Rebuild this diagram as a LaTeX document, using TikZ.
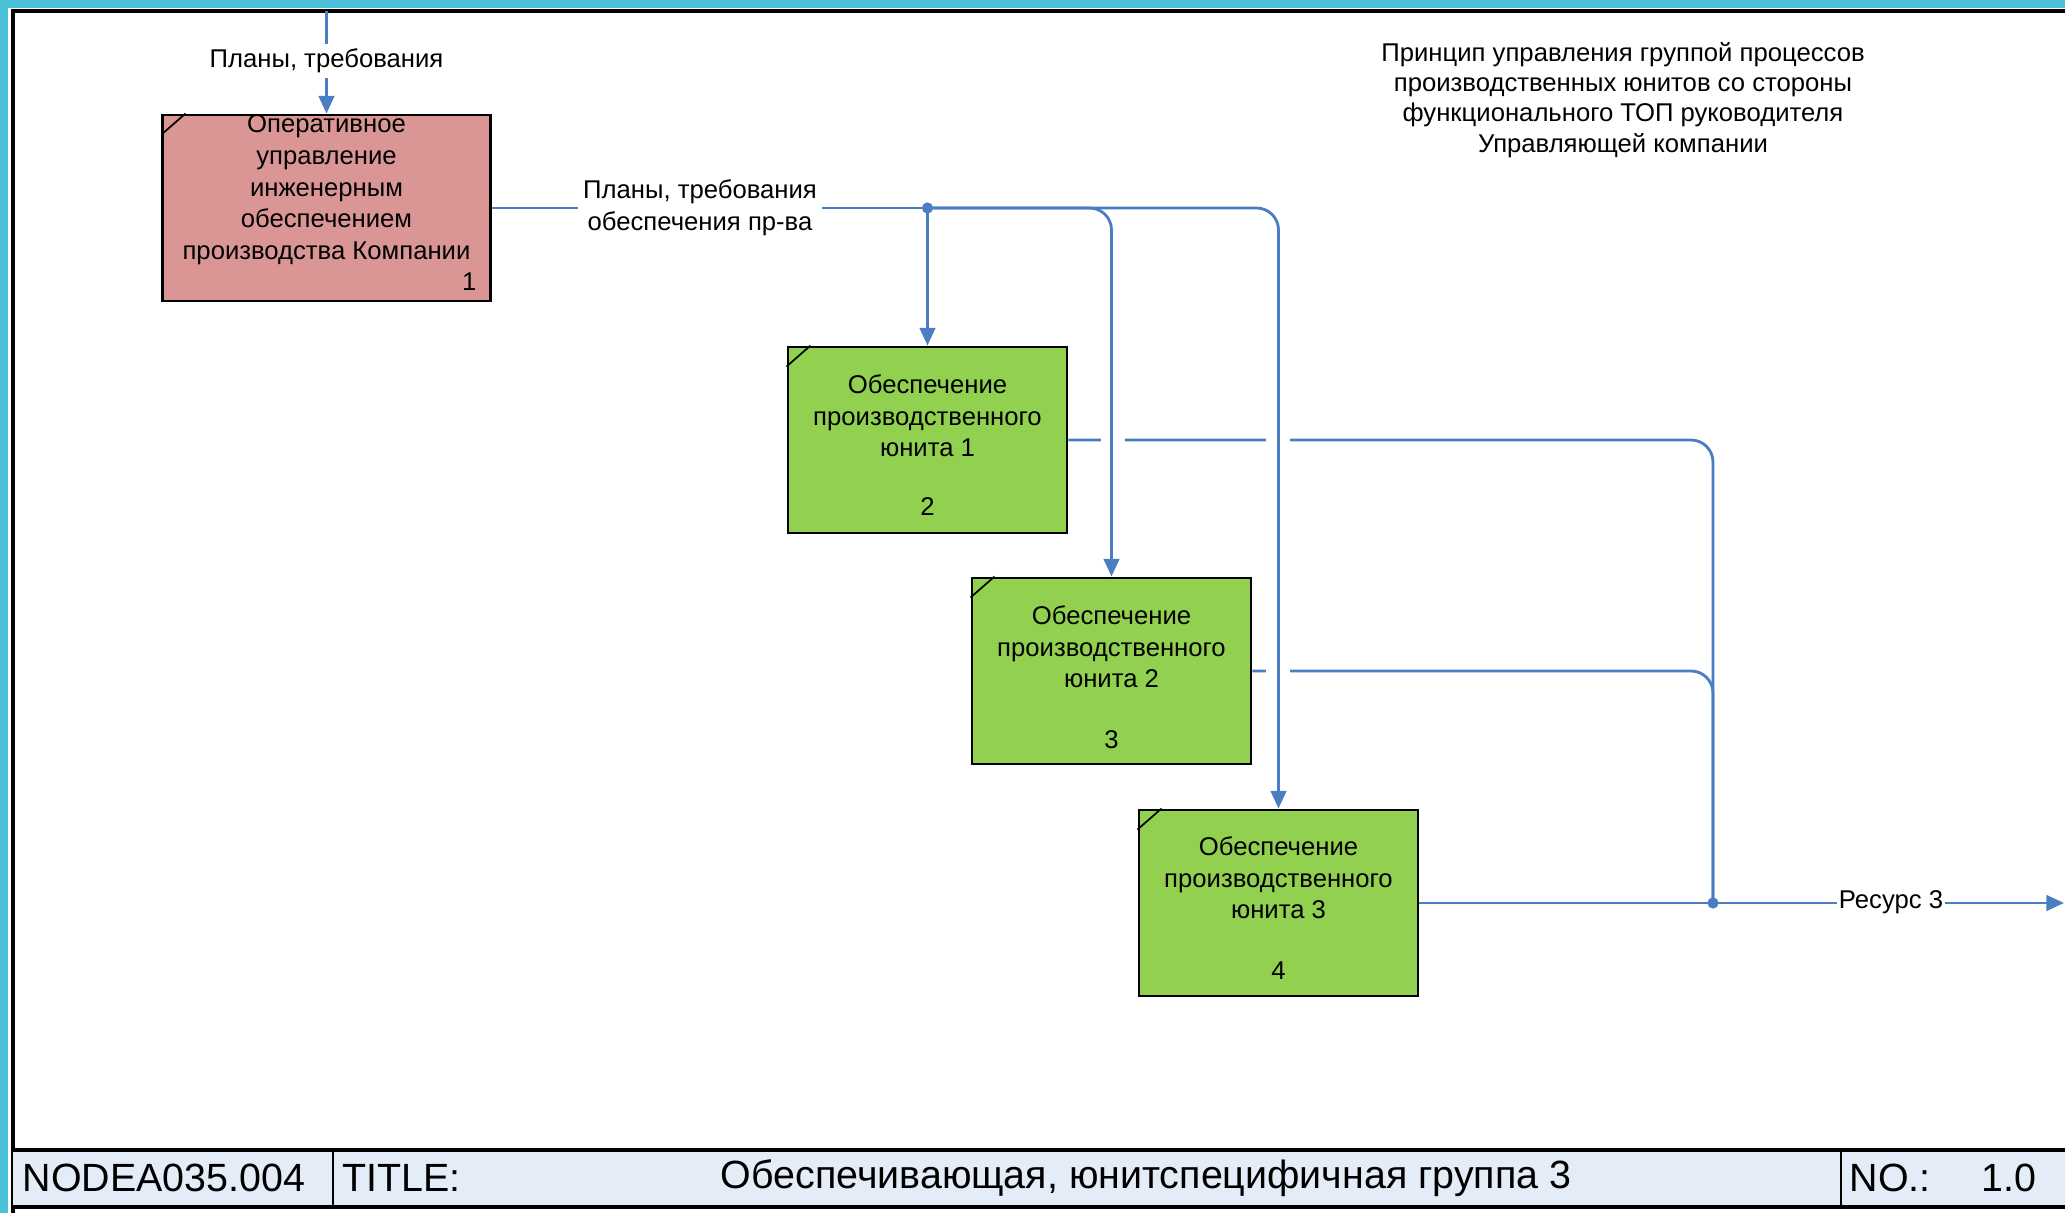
\documentclass[tikz,border=0pt]{standalone}
\usepackage{fontspec}
\setmainfont{Liberation Sans}
\usetikzlibrary{arrows.meta}
\definecolor{hdrteal}{HTML}{4BC0D9}
\definecolor{flowblue}{HTML}{4A7EC2}
\definecolor{boxred}{HTML}{DA9694}
\definecolor{boxgreen}{HTML}{92D050}
\definecolor{barblue}{HTML}{E4ECF7}
\tikzset{
  flow/.style={draw=flowblue, line width=0.8pt},
  arr/.style={-{Triangle[length=5pt,width=4.4pt]}},
  procbox/.style={draw=black, line width=0.8pt, minimum width=2.79cm, minimum height=1.86cm, inner sep=0pt},
  boxtext/.style={align=center, font=\fontsize{7.3}{9}\selectfont, inner sep=0pt},
  lbl/.style={align=center, font=\fontsize{7.3}{9.2}\selectfont, fill=white, inner sep=1.5pt},
  bartext/.style={font=\fontsize{11.2}{13}\selectfont, inner sep=0pt},
  dot/.style={circle, fill=flowblue, inner sep=0pt, minimum size=3.2pt}
}
\begin{document}
\begin{tikzpicture}[x=0.01cm, y=-0.01cm]
\useasboundingbox (0,0) rectangle (2065,1213);
\fill[white] (0,0) rectangle (2065,1213);
\fill[hdrteal] (0,0) rectangle (2065,8);
\fill[hdrteal] (0,0) rectangle (8,1213);
% frame
\draw[black, line width=0.9pt] (13,1213) |- (2065,11);
% title bar
\fill[barblue] (13,1150) rectangle (2065,1207);
\draw[black, line width=1.2pt] (13,1150) -- (2065,1150);
\draw[black, line width=1.2pt] (13,1207) -- (2065,1207);
\draw[black, line width=0.6pt] (333,1150) -- (333,1207);
\draw[black, line width=0.6pt] (1841,1150) -- (1841,1207);
\node[bartext, anchor=west] (node) at (22,1178) {NODEA035.004};
\node[bartext, anchor=west] (title) at (342,1178) {TITLE:};
\node[bartext] (ttext) at (1146,1178) {Обеспечивающая, юнитспецифичная группа 3};
\node[bartext, anchor=west] (no) at (1849,1178) {NO.:};
\node[bartext, anchor=east] (nov) at (2037,1178) {1.0};

% boxes
\node[procbox, fill=boxred, minimum width=3.27cm] (b1) at (326.5,208) {};
\node[procbox, fill=boxgreen] (b2) at (927.5,440) {};
\node[procbox, fill=boxgreen] (b3) at (1111.5,671) {};
\node[procbox, fill=boxgreen] (b4) at (1278.5,903) {};
\foreach \b in {b1,b2,b3,b4}{
  \draw[black, line width=0.5pt] (\b.north west) ++(0,21) -- ++(24,-21);
}
\node[boxtext] (t1) at (326.5,190) {Оперативное\\управление\\инженерным\\обеспечением\\производства Компании};
\node[boxtext, anchor=east] (n1) at (477,282) {1};
\node[boxtext] (t2) at (927.5,416) {Обеспечение\\производственного\\юнита 1};
\node[boxtext] (n2) at (927.5,507) {2};
\node[boxtext] (t3) at (1111.5,647) {Обеспечение\\производственного\\юнита 2};
\node[boxtext] (n3) at (1111.5,740) {3};
\node[boxtext] (t4) at (1278.5,878) {Обеспечение\\производственного\\юнита 3};
\node[boxtext] (n4) at (1278.5,971) {4};

% coordinates
\coordinate (in1) at (326.5,11);
\coordinate (j1) at (927.5,208);
\coordinate (j2) at (1713,903);
\coordinate (out) at (2064,903);

% outputs of boxes 2 and 3
\draw[flow, rounded corners=0.22cm] (b2.east) -| (j2);
\draw[flow, rounded corners=0.22cm] (b3.east) -| (j2);
% gaps at crossings
\fill[white] (1101,434) rectangle (1125,446);
\fill[white] (1266,434) rectangle (1290,446);
\fill[white] (1266,666) rectangle (1290,678);

% inputs
\draw[flow, arr] (in1) -- (b1.north);
\draw[flow] (b1.east) -- (j1);
\draw[flow, arr] (j1) -- (b2.north);
\draw[flow, arr, rounded corners=0.22cm] (j1) -| (b3.north);
\draw[flow, arr, rounded corners=0.22cm] (j1) -| (b4.north);
\draw[flow] (b4.east) -- (j2);
\draw[flow, arr] (j2) -- (out);

% labels
\node[lbl] (l1) at (326.5,61) {Планы, требования};
\node[lbl] (l2) at (700,208) {Планы, требования\\обеспечения пр-ва};
\node[lbl, inner sep=0.5pt] (l3) at (1891,902) {Ресурс 3};

\node[dot] (d1) at (j1) {};
\node[dot] (d2) at (j2) {};

% note
\node[align=center, font=\fontsize{7.3}{8.6}\selectfont, inner sep=0pt] (note) at (1623,100)
 {Принцип управления группой процессов\\производственных юнитов со стороны\\функционального ТОП руководителя\\Управляющей компании};
\end{tikzpicture}
\end{document}
